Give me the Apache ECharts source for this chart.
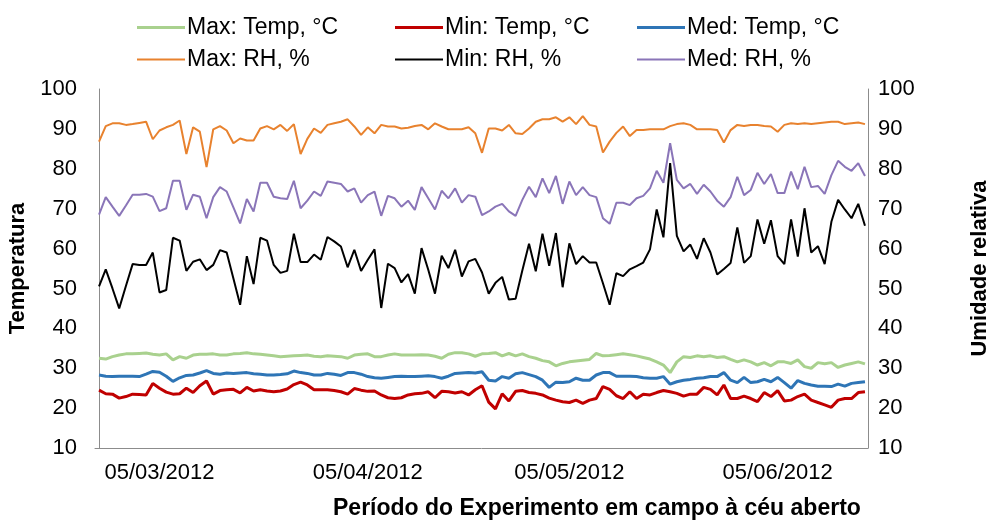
<!DOCTYPE html>
<html>
<head>
<meta charset="utf-8">
<script src="https://cdn.jsdelivr.net/npm/echarts@6/dist/echarts.min.js"></script>
<style>
  html, body { margin: 0; padding: 0; background: #fff; }
  #main { width: 987px; height: 520px; }
</style>
</head>
<body>
<div id="main"></div>
<script>
// daily readings, 25/02/2012 .. 18/06/2012
var startDay = [2012, 1, 25];
var tickDays = [9, 40, 70, 101];   // 05/03, 05/04, 05/05, 05/06

var maxTemp = [32.5, 32.3, 32.9, 33.3, 33.6, 33.6, 33.7, 33.8, 33.5, 33.3, 33.6, 32.1, 32.9, 32.5, 33.3, 33.5, 33.5, 33.6, 33.3, 33.3,
  33.6, 33.7, 33.9, 33.6, 33.5, 33.3, 33.1, 32.9, 33.0, 33.1, 33.2, 33.3, 33.0, 32.9, 33.1, 33.0, 32.9, 32.5, 33.3, 33.5,
  33.6, 32.9, 32.9, 33.3, 33.6, 33.3, 33.3, 33.3, 33.4, 33.3, 33.0, 32.5, 33.5, 33.9, 33.9, 33.6, 33.0,
  33.6, 33.7, 33.9, 33.1, 33.7, 33.1, 33.6, 32.9, 32.5, 31.9, 31.6, 30.6, 31.2, 31.6, 31.8, 32.0, 32.2, 33.7, 33.1, 33.2,
  33.4, 33.6, 33.4, 33.1, 32.7, 32.3, 31.6, 30.8, 28.9, 31.6, 32.9, 32.7, 33.1, 32.9, 33.1, 32.7, 32.9, 32.2, 31.6, 32.1,
  31.6, 30.8, 31.4, 30.6, 31.6, 31.6, 31.2, 32.1, 30.4, 30.0, 31.4, 31.1, 31.4, 30.2, 30.8, 31.2, 31.6, 31.1];
var minTemp = [24.5, 23.6, 23.5, 22.5, 22.9, 23.5, 23.4, 23.3, 26.2, 25.0, 24.0, 23.5, 23.6, 25.0, 23.9, 25.6, 26.8, 23.5, 24.4, 24.6,
  24.7, 23.8, 25.2, 24.3, 24.6, 24.3, 24.1, 24.3, 24.8, 25.9, 26.5, 25.8, 24.6, 24.6, 24.6, 24.4, 24.1, 23.5, 24.9, 24.5,
  24.2, 24.3, 23.3, 22.6, 22.4, 22.6, 23.3, 23.6, 23.7, 24.1, 22.6, 24.2, 24.1, 23.8, 24.1, 23.3, 24.6,
  25.6, 21.5, 19.8, 23.6, 21.8, 24.2, 24.4, 23.9, 23.7, 23.3, 22.5, 22.0, 21.6, 21.4, 22.0, 21.2, 22.0, 22.4, 25.4, 24.7,
  23.1, 22.4, 24.1, 22.4, 23.5, 23.3, 23.9, 24.4, 24.1, 23.7, 23.0, 23.5, 23.5, 25.2, 24.7, 23.3, 25.8, 22.4, 22.4, 23.0,
  22.4, 21.6, 23.9, 22.9, 24.4, 21.8, 22.0, 22.9, 23.5, 22.0, 21.4, 20.8, 20.2, 22.0, 22.4, 22.4, 23.9, 24.1];
var medTemp = [28.3, 28.0, 27.9, 28.0, 28.0, 28.0, 27.9, 28.5, 29.2, 29.0, 28.0, 26.7, 27.6, 28.2, 28.3, 28.8, 29.4, 28.7, 28.5, 28.8,
  28.7, 28.8, 28.9, 28.6, 28.5, 28.3, 28.3, 28.4, 28.6, 29.3, 28.9, 28.7, 28.3, 28.3, 28.7, 28.5, 28.2, 28.9, 28.9, 28.5,
  27.9, 27.6, 27.5, 27.7, 27.9, 28.0, 27.9, 27.9, 28.0, 28.1, 27.9, 27.5, 28.0, 28.7, 28.8, 28.9, 28.8,
  29.1, 27.0, 26.8, 27.9, 27.5, 28.6, 28.9, 28.4, 27.9, 27.0, 25.2, 26.5, 26.4, 26.6, 27.5, 27.0, 27.0, 28.3, 28.9, 28.9,
  28.0, 28.0, 28.0, 27.9, 27.6, 27.5, 27.5, 27.9, 26.0, 26.6, 27.0, 27.2, 27.5, 27.6, 27.9, 27.9, 28.9, 27.0, 26.4, 27.7,
  26.4, 26.6, 27.2, 26.6, 27.7, 26.4, 25.0, 26.9, 26.2, 25.8, 25.5, 25.5, 25.4, 26.0, 25.5, 26.2, 26.4, 26.6];
var maxRH = [86.8, 90.7, 91.4, 91.4, 91.0, 91.2, 91.5, 91.8, 87.4, 89.6, 90.4, 91.0, 92.1, 83.7, 90.4, 89.3, 80.4, 89.9, 90.7, 89.6,
  86.4, 87.6, 87.1, 87.1, 90.1, 90.7, 89.9, 91.0, 89.5,
  91.2, 83.7, 87.5, 90.1, 89.0, 91.0, 91.4, 91.8, 92.4, 90.6, 88.5, 90.4, 88.9, 91.0, 90.6, 90.6, 90.1, 90.3, 90.7, 91.0,
  89.9, 91.4, 90.6, 89.9, 89.9, 89.9, 90.4, 88.9, 84.0,
  90.1, 90.1, 89.6, 91.0, 88.9, 88.7, 90.1, 91.8, 92.4, 92.4, 92.9, 91.8, 92.9, 91.2, 93.2, 91.0, 90.6, 84.1, 86.8, 89.0,
  90.6, 88.2, 89.7, 89.7, 89.9, 89.9, 89.9, 90.7,
  91.2, 91.4, 91.0, 89.9, 89.9, 89.9, 89.7, 86.6, 89.7, 91.0, 90.7, 91.0, 91.0, 90.7, 90.6, 89.3, 91.0, 91.4, 91.2, 91.4,
  91.2, 91.4, 91.6, 91.8, 91.8, 91.2, 91.4, 91.6, 91.2];
var minRH = [50.5, 54.8, 50.0, 45.0, 50.6, 56.1, 55.9, 55.9, 59.0, 49.0, 49.6, 62.7, 62.0, 54.4, 56.7, 57.3, 54.6, 55.9, 59.6, 59.0,
  52.5, 45.9, 58.1, 51.1, 62.7, 62.0, 55.9, 53.9, 54.4,
  63.7, 56.6, 56.6, 58.5, 57.2, 62.9, 61.8, 60.5, 55.3, 59.7, 54.4, 57.2, 59.8, 45.1, 56.2, 55.1, 51.5, 53.6, 48.7, 60.1,
  54.7, 48.7, 58.2, 55.1, 59.7, 53.0, 56.8, 57.4, 54.0,
  48.7, 51.4, 52.9, 47.2, 47.4, 54.5, 61.2, 54.3, 63.7, 55.7, 63.9, 50.3, 61.3, 56.1, 58.1, 56.5, 56.5, 51.3, 45.9, 53.8,
  53.1, 54.8, 55.6, 56.5, 59.8, 69.8, 62.8, 81.4,
  63.2, 59.3, 61.0, 57.4, 62.6, 59.0, 53.5, 54.9, 56.4, 65.3, 56.4, 58.1, 67.3, 61.2, 67.1, 58.1, 56.1, 67.3, 58.0, 70.1,
  59.0, 60.6, 56.1, 66.7, 72.2, 69.8, 67.6, 71.2, 65.7];
var medRH = [68.5, 72.9, 70.5, 68.2, 70.8, 73.5, 73.5, 73.7, 73.0, 69.4, 70.1, 77.0, 77.0, 69.7, 73.5, 73.0, 67.6, 72.9, 75.4, 74.3,
  70.3, 66.3, 72.4, 69.3, 76.5, 76.5, 73.0, 72.6, 72.4,
  77.0, 70.1, 72.0, 74.3, 73.2, 76.8, 76.5, 76.2, 74.3, 75.1, 71.5, 73.4, 74.3, 68.2, 73.2, 72.6, 70.5, 72.0, 69.7, 75.4,
  72.6, 69.8, 74.5, 72.6, 75.1, 71.5, 73.4, 73.0, 68.4,
  69.3, 70.5, 71.2, 69.3, 68.2, 72.2, 75.5, 72.9, 77.6, 73.9, 78.2, 71.2, 76.8, 73.4, 75.4, 73.4, 72.9, 67.6, 66.2, 71.5,
  71.5, 70.9, 72.6, 73.2, 75.1, 79.5, 76.5, 86.4,
  77.2, 75.1, 76.2, 73.7, 76.0, 74.3, 72.0, 70.5, 72.9, 78.0, 73.4, 74.7, 79.0, 76.2, 78.7, 73.9, 73.9, 79.3, 74.9, 80.5,
  75.4, 75.7, 73.7, 78.4, 82.0, 80.5, 79.5, 81.4, 78.2];

function pad(n) { return n < 10 ? '0' + n : '' + n; }
var days = [];
for (var i = 0; i < maxRH.length; i++) {
  var d = new Date(Date.UTC(startDay[0], startDay[1], startDay[2] + i));
  days.push(pad(d.getUTCDate()) + '/' + pad(d.getUTCMonth() + 1) + '/' + d.getUTCFullYear());
}
function pairs(arr) { return arr.map(function (v, k) { return [k, v]; }); }

var font = 'Liberation Sans, Arial, sans-serif';
var chart = echarts.init(document.getElementById('main'));

function yAx(pos, name, gap, lblMargin) {
  return {
    type: 'value', position: pos, min: 10, max: 100, interval: 10,
    name: name, nameLocation: 'middle', nameGap: gap, nameRotate: 90,
    nameTextStyle: { fontFamily: font, fontSize: 22, fontWeight: 'bold', color: '#000' },
    axisLine: { show: true, lineStyle: { color: '#8c8c8c', width: 1 } },
    axisTick: { show: false },
    axisLabel: { fontFamily: font, fontSize: 22, color: '#000', margin: lblMargin },
    splitLine: { show: false }
  };
}

function ser(name, data, color, width, axis) {
  return {
    name: name, type: 'line', data: pairs(data), yAxisIndex: axis,
    symbol: 'none', smooth: false, animation: false,
    lineStyle: { color: color, width: width }, itemStyle: { color: color }
  };
}

function leg(name, left, top, h) {
  return {
    data: [name], left: left, top: top, itemWidth: 48, itemHeight: h,
    icon: 'rect', itemGap: 0, padding: 0,
    textStyle: { fontFamily: font, fontSize: 23, color: '#000', padding: [0, 0, 0, -3] }
  };
}

chart.setOption({
  backgroundColor: '#fff',
  animation: false,
  title: {
    text: 'Período do Experimento em campo à céu aberto',
    left: 333, top: 497, padding: 0,
    textStyle: { fontFamily: font, fontSize: 23, fontWeight: 'bold', color: '#000' }
  },
  legend: [
    leg('Max: Temp, °C', 137, 16, 3), leg('Min: Temp, °C', 395, 16, 3), leg('Med: Temp, °C', 637, 16, 3),
    leg('Max: RH, %', 137, 48, 2), leg('Min: RH, %', 395, 48, 2), leg('Med: RH, %', 637, 48, 2)
  ],
  grid: { left: 95, right: 119, top: 89, bottom: 72, outerBoundsMode: 'none', containLabel: false },
  xAxis: {
    type: 'value', min: -0.6, max: 114.45,
    axisLine: { lineStyle: { color: '#8c8c8c' } },
    axisTick: { show: false },
    axisLabel: {
      fontFamily: font, fontSize: 22, color: '#000', margin: 14,
      customValues: tickDays,
      formatter: function (v) { return days[Math.round(v)]; }
    },
    splitLine: { show: false }
  },
  yAxis: [yAx('left', 'Temperatura', 57, 18), yAx('right', 'Umidade relativa', 101, 10)],
  series: [
    ser('Max: Temp, °C', maxTemp, '#a9d18e', 3, 0),
    ser('Min: Temp, °C', minTemp, '#c00000', 3, 0),
    ser('Med: Temp, °C', medTemp, '#2e75b6', 3, 0),
    ser('Max: RH, %', maxRH, '#e8822e', 2, 1),
    ser('Min: RH, %', minRH, '#000000', 2, 1),
    ser('Med: RH, %', medRH, '#8a75b8', 2, 1)
  ]
});
</script>
</body>
</html>
